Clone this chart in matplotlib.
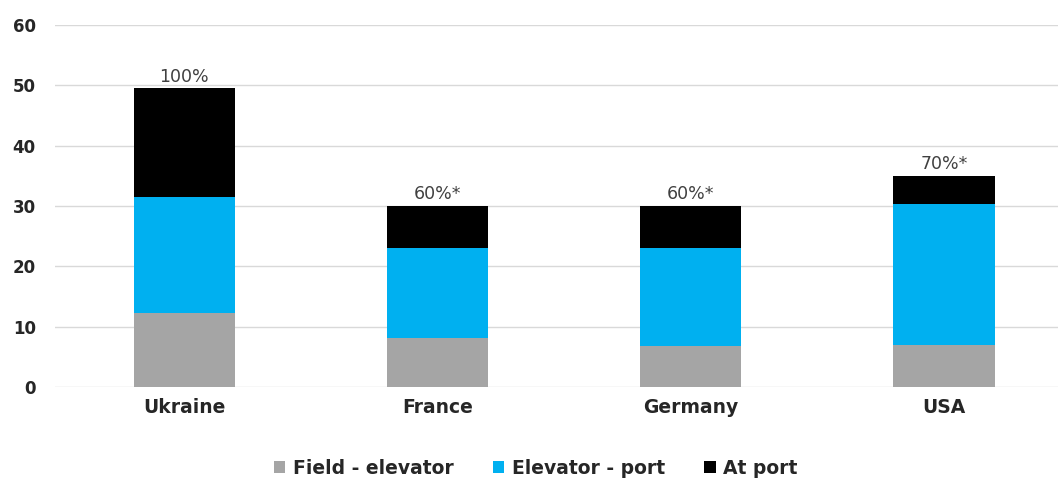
import matplotlib
matplotlib.use("Agg")
import matplotlib.pyplot as plt
import numpy as np

plt.rcParams["font.family"] = ["DejaVu Sans"]

categories = ["Ukraine", "France", "Germany", "USA"]
field_elevator = [12.2, 8.1, 6.7, 7.0]
elevator_port = [19.2, 15.0, 16.4, 23.3]
at_port = [18.1, 6.9, 6.9, 4.7]
top_labels = ["100%", "60%*", "60%*", "70%*"]
yticks = [0, 10, 20, 30, 40, 50, 60]

colors = ["#A5A5A5", "#00B0F0", "#000000"]
names = ["Field - elevator", "Elevator - port", "At port"]

fig = plt.figure(figsize=(10.61, 4.8), dpi=100)
ax = fig.add_axes([0.052, 0.194, 0.945, 0.754])

x = np.arange(len(categories))
w = 0.4
b1 = ax.bar(x, field_elevator, w, color=colors[0], label=names[0], zorder=3)
bottom2 = np.array(field_elevator)
b2 = ax.bar(x, elevator_port, w, bottom=bottom2, color=colors[1], label=names[1], zorder=3)
bottom3 = bottom2 + np.array(elevator_port)
b3 = ax.bar(x, at_port, w, bottom=bottom3, color=colors[2], label=names[2], zorder=3)
totals = bottom3 + np.array(at_port)

for xi, t, lab in zip(x, totals, top_labels):
    ax.annotate(lab, (xi, t), xytext=(0, 2), textcoords="offset points",
                ha="center", va="bottom", fontsize=12.5, color="#404040")

ax.set_ylim(0, 60)
ax.set_xlim(-0.51, 3.45)
ax.set_yticks(yticks)
ax.set_xticks(x)
ax.set_xticklabels(categories, fontsize=13.5, fontweight="bold", color="#262626")
ax.tick_params(axis="y", labelsize=12, colors="#262626", length=0, pad=14)
ax.tick_params(axis="x", length=0, pad=8)
for lab in ax.get_yticklabels():
    lab.set_fontweight("bold")
ax.grid(axis="y", color="#D9D9D9", linewidth=1, zorder=0)
for s in ax.spines.values():
    s.set_visible(False)

leg = fig.legend(handles=[b1, b2, b3], labels=names, loc="center", bbox_to_anchor=(0.505, 0.025),
                 ncol=3, frameon=False, handlelength=0.6, handleheight=0.6, handletextpad=0.4,
                 columnspacing=2.1, prop={"weight": "bold", "size": 13.5})
for t in leg.get_texts():
    t.set_color("#262626")

fig.savefig("out.png", dpi=100)
